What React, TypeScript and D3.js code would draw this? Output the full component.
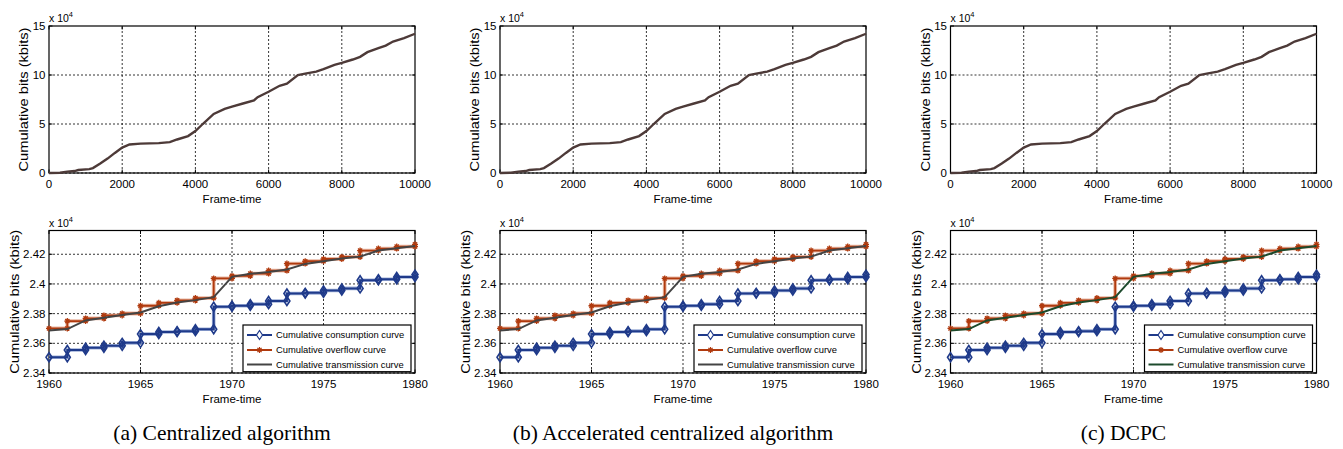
import * as d3 from 'd3'

// top row: whole sequence, cumulative bits in units of 1e4 kbits
const longFrames = [0, 300, 500, 700, 800, 1100, 1200, 1400, 1600, 1800, 2000, 2200, 2500, 3000, 3300, 3500, 3800, 4000, 4200, 4500, 4800, 5000, 5300, 5600, 5700, 6000, 6300, 6500, 6800, 7000, 7300, 7500, 7800, 8000, 8300, 8500, 8700, 9000, 9200, 9400, 9700, 10000]
const longBits = [0, 0.03, 0.14, 0.2, 0.3, 0.4, 0.5, 0.96, 1.47, 2.05, 2.6, 2.91, 3.0, 3.05, 3.15, 3.42, 3.77, 4.28, 5.0, 6.03, 6.54, 6.78, 7.09, 7.4, 7.74, 8.29, 8.9, 9.11, 10.0, 10.14, 10.34, 10.6, 11.03, 11.23, 11.58, 11.85, 12.33, 12.74, 13.0, 13.42, 13.77, 14.21]
const longXTicks = [0, 2000, 4000, 6000, 8000, 10000]
const longYTicks = [0, 5, 10, 15]

// bottom row: zoom on frames 1960-1980 (units of 1e4 kbits)
const frames = [1960, 1961, 1962, 1963, 1964, 1965, 1966, 1967, 1968, 1969, 1970, 1971, 1972, 1973, 1974, 1975, 1976, 1977, 1978, 1979, 1980]
const consumption = [2.3506, 2.3555, 2.3570, 2.3584, 2.3603, 2.3662, 2.3676, 2.3682, 2.3695, 2.3846, 2.3853, 2.3864, 2.3885, 2.3936, 2.3940, 2.3956, 2.3970, 2.4025, 2.4032, 2.4047, 2.4063]
const overflow = [2.3700, 2.3750, 2.3768, 2.3788, 2.3801, 2.3853, 2.3873, 2.3889, 2.3905, 2.4037, 2.4054, 2.4070, 2.4090, 2.4137, 2.4153, 2.4168, 2.4182, 2.4225, 2.4238, 2.4252, 2.4267]
const transmission = [2.3687, 2.3696, 2.3754, 2.3772, 2.3790, 2.3808, 2.3850, 2.3875, 2.3891, 2.3911, 2.4048, 2.4068, 2.4081, 2.4097, 2.4135, 2.4153, 2.4171, 2.4184, 2.4225, 2.4240, 2.4256]
const zoomXTicks = [1960, 1965, 1970, 1975, 1980]
const zoomYTicks = [2.34, 2.36, 2.38, 2.4, 2.42]

const captions = ['(a) Centralized algorithm', '(b) Accelerated centralized algorithm', '(c) DCPC']
const legendLabels = ['Cumulative consumption curve', 'Cumulative overflow curve', 'Cumulative transmission curve']
const transColors = ['#444444', '#444444', '#1d4a2c']

const BLUE = '#1f3a8a', ORANGE = '#b03a0e'
const SANS = '"Liberation Sans", Arial, Helvetica, sans-serif'
const SERIF = '"Liberation Serif", "Times New Roman", serif'

const lefts = [49, 500, 950.5]
const PW = 366
const topBox = [26, 173]
const botBox = [230.5, 373]

const diamond = (x, y) => `M${x},${y - 4.5}L${x + 3},${y}L${x},${y + 4.5}L${x - 3},${y}Z`
const star = (x, y) => `M${x - 3},${y}H${x + 3}M${x},${y - 3}V${y + 3}M${x - 2.1},${y - 2.1}L${x + 2.1},${y + 2.1}M${x - 2.1},${y + 2.1}L${x + 2.1},${y - 2.1}`

const Axes = ({ x, y, xTicks, yTicks, fmtY, labelGap }) => {
  const [x0, x1] = x.range(), [y0, y1] = y.range()
  return (
    <g fontFamily={SANS} fontSize={11.5} fill="#000">
      {xTicks.slice(1, -1).map(t => (
        <line key={'gx' + t} x1={x(t)} x2={x(t)} y1={y0} y2={y1} stroke="#000" strokeWidth={0.8} strokeDasharray="2,2" />
      ))}
      {yTicks.filter(t => y(t) > y1 + 1).map(t => (
        <line key={'gy' + t} x1={x0} x2={x1} y1={y(t)} y2={y(t)} stroke="#000" strokeWidth={0.8} strokeDasharray="2,2" />
      ))}
      {xTicks.map(t => (
        <g key={'tx' + t}>
          <line x1={x(t)} x2={x(t)} y1={y0} y2={y0 - 3.5} stroke="#000" />
          <line x1={x(t)} x2={x(t)} y1={y1} y2={y1 + 3.5} stroke="#000" />
          <text x={x(t)} y={y0 + 15} textAnchor="middle">{t}</text>
        </g>
      ))}
      {yTicks.map(t => (
        <g key={'ty' + t}>
          <line x1={x0} x2={x0 + 3.5} y1={y(t)} y2={y(t)} stroke="#000" />
          <line x1={x1} x2={x1 - 3.5} y1={y(t)} y2={y(t)} stroke="#000" />
          <text x={x0 - 3.5} y={y(t) + 4} textAnchor="end">{fmtY(t)}</text>
        </g>
      ))}
      <rect x={x0} y={y1} width={x1 - x0} height={y0 - y1} fill="none" stroke="#000" strokeWidth={1.2} />
      <text x={x0} y={y1 - 4} fontSize={10.5}>x 10<tspan dy={-5} fontSize={7.5}>4</tspan></text>
      <text transform={`translate(${x0 - labelGap},${(y0 + y1) / 2}) rotate(-90)`} textAnchor="middle" dy={4}
        fontSize={12} textLength={144} lengthAdjust="spacingAndGlyphs">Cumulative bits (kbits)</text>
      <text x={(x0 + x1) / 2} y={y0 + 30} textAnchor="middle">Frame-time</text>
    </g>
  )
}

const Panel = ({ i }) => {
  const left = lefts[i]
  const xL = d3.scaleLinear([0, 10000], [left, left + PW])
  const yL = d3.scaleLinear([0, 15], [topBox[1], topBox[0]])
  const xZ = d3.scaleLinear([1960, 1980], [left, left + PW])
  const yZ = d3.scaleLinear([2.34, 2.436], [botBox[1], botBox[0]])

  const longLine = d3.line<number>().x((d, k) => xL(longFrames[k])).y(d => yL(d))
  const stair = d3.line<number>().x((d, k) => xZ(frames[k])).y(d => yZ(d)).curve(d3.curveStepAfter)
  const straight = d3.line<number>().x((d, k) => xZ(frames[k])).y(d => yZ(d))

  const stepPts = (vals) => vals.flatMap((v, k) => k === 0 ? [[frames[k], v]] : [[frames[k], vals[k - 1]], [frames[k], v]])

  const lgX = left + PW - 172, lgY = botBox[1] - 48, lgW = 168, lgH = 46.7
  const rows = [lgY + 10, lgY + 25, lgY + 39.5]

  return (
    <g>
      <Axes x={xL} y={yL} xTicks={longXTicks} yTicks={longYTicks} fmtY={d => String(d)} labelGap={25} />
      <path d={longLine(longBits)} fill="none" stroke="#4d3a38" strokeWidth={2.4} />

      <Axes x={xZ} y={yZ} xTicks={zoomXTicks} yTicks={zoomYTicks} fmtY={d3.format('~g')} labelGap={34} />
      <path d={stair(overflow)} fill="none" stroke="#e9b8a4" strokeWidth={3.8} />
      <path d={stair(overflow)} fill="none" stroke={ORANGE} strokeWidth={1.8} />
      {stepPts(overflow).map(([f, v], k) => (
        <path key={'o' + k} d={star(xZ(f), yZ(v))} stroke={ORANGE} strokeWidth={1.3} fill="none" />
      ))}
      <path d={stair(consumption)} fill="none" stroke="#9fb0d8" strokeWidth={3.6} />
      <path d={stair(consumption)} fill="none" stroke={BLUE} strokeWidth={2} />
      {stepPts(consumption).map(([f, v], k) => (
        <path key={'c' + k} d={diamond(xZ(f), yZ(v))} stroke={BLUE} strokeWidth={1.6} fill="none" />
      ))}
      <path d={straight(transmission)} fill="none" stroke={transColors[i]} strokeWidth={2} />

      <g fontFamily={SANS} fontSize={9.4}>
        <rect x={lgX} y={lgY} width={lgW} height={lgH} fill="#fff" stroke="#000" strokeWidth={1.2} />
        <line x1={lgX + 4} x2={lgX + 29} y1={rows[0]} y2={rows[0]} stroke={BLUE} strokeWidth={2} />
        <path d={diamond(lgX + 16.5, rows[0])} stroke={BLUE} strokeWidth={1.2} fill="#fff" />
        <line x1={lgX + 4} x2={lgX + 29} y1={rows[1]} y2={rows[1]} stroke={ORANGE} strokeWidth={2} />
        <path d={star(lgX + 16.5, rows[1])} stroke={ORANGE} strokeWidth={1.2} />
        <line x1={lgX + 4} x2={lgX + 29} y1={rows[2]} y2={rows[2]} stroke={transColors[i]} strokeWidth={2} />
        {legendLabels.map((l, k) => (
          <text key={l} x={lgX + 33} y={rows[k] + 3.4}>{l}</text>
        ))}
      </g>

      <text x={left + PW / 2 - 10} y={440} textAnchor="middle" fontFamily={SERIF} fontSize={21.5}>{captions[i]}</text>
    </g>
  )
}

export default function App() {
  return (
    <svg width={1343} height={449} style={{ position: 'absolute', left: 0, top: 0, background: '#fff' }}>
      {[0, 1, 2].map(i => <Panel key={i} i={i} />)}
    </svg>
  )
}
